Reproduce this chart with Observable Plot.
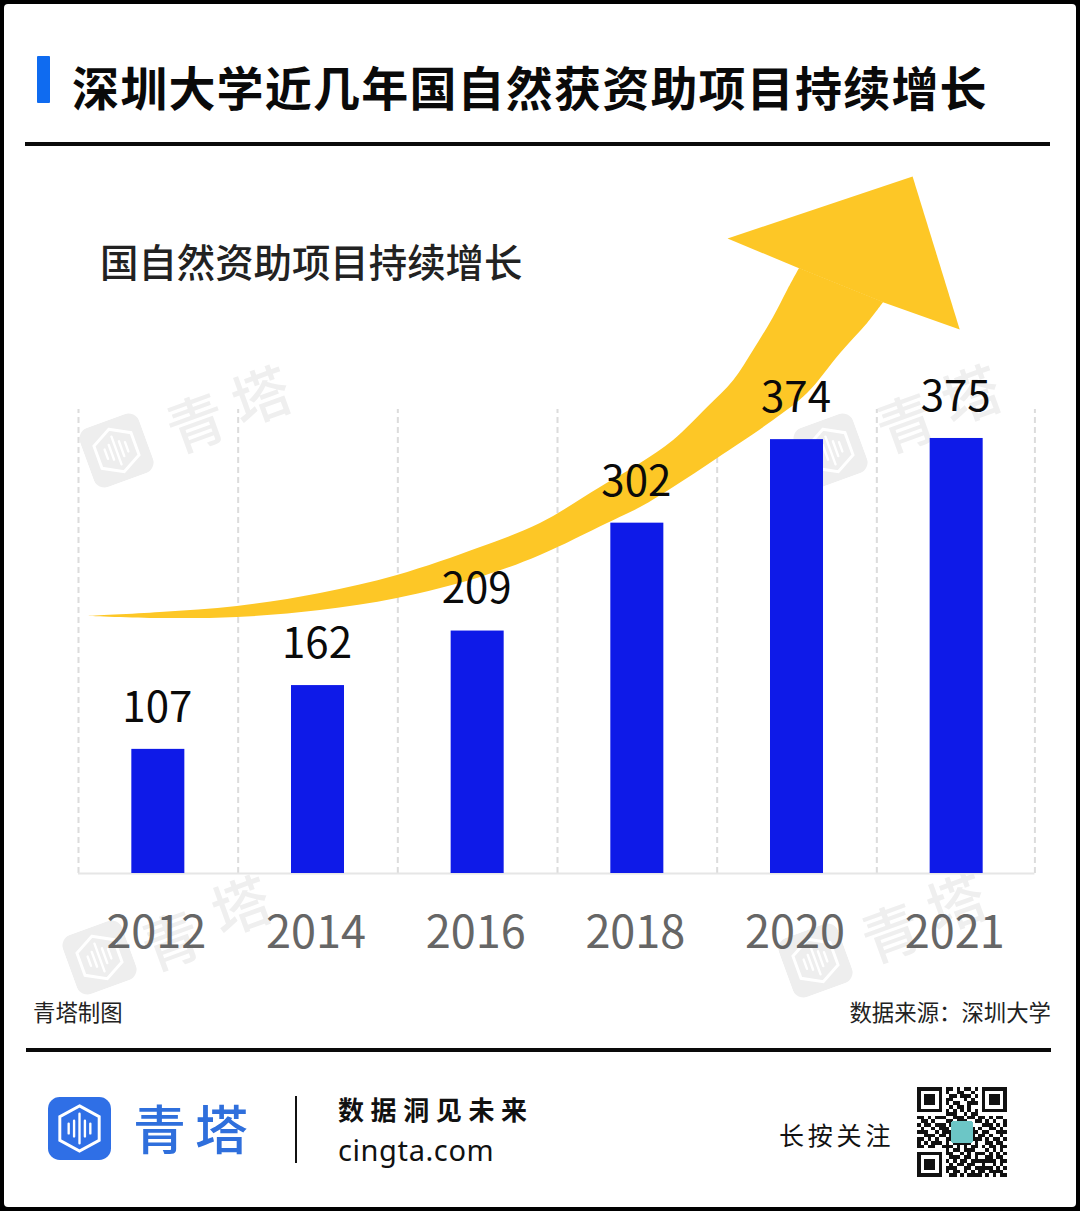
<!DOCTYPE html>
<html lang="zh">
<head>
<meta charset="utf-8">
<script src="https://cdn.jsdelivr.net/npm/d3@7"></script>
<script src="https://cdn.jsdelivr.net/npm/@observablehq/plot@0.6"></script>
<style>
html,body{margin:0;padding:0;background:#000;overflow:hidden}
#page{position:relative;width:1072px;height:1203px;margin:4px;background:#fff;border-radius:4px;overflow:hidden;font-family:"Noto Sans CJK SC","Noto Sans",sans-serif}
#page>*{position:absolute}
</style>
</head>
<body>
<div id="page"></div>
<script>
// ---------- chart data ----------
const years = ["2012", "2014", "2016", "2018", "2020", "2021"];
const grants = [107, 162, 209, 302, 374, 375];
const slots = [0, 1, 2, 3, 4, 5];
const gridSlots = [-0.5, 0.5, 1.5, 2.5, 3.5, 4.5, 5.49];
// arrow shaft edges and head, in the chart's own units (year slot, grant count)
const shaftTopSlot = [-0.439,0.013,0.495,1.015,1.497,2.018,2.393,2.769,3.020,3.227,3.440,3.603,3.728,3.853,3.941,4.016];
const shaftTopCount = [221.6,225,230.2,241.4,256.9,281,301.7,332.8,353.4,373.3,401.7,424.8,450.9,479.3,502.6,521.6];
const shaftBottomSlot = [-0.439,0.013,0.495,1.015,1.497,2.018,2.393,2.813,3.020,3.227,3.503,3.853,4.066,4.273,4.442,4.543];
const shaftBottomCount = [221.6,219.8,220.7,226.7,237.1,255.2,274.1,301.7,315.5,332.8,357.8,390.5,413.8,448.3,474.1,492.2];
const headSlot = [4.016,3.565,4.724,5.019,4.543];
const headCount = [521.6,547.4,600.9,469,492.2];
// ---------- page text ----------
const titleText = "深圳大学近几年国自然获资助项目持续增长";
const subtitleText = "国自然资助项目持续增长";
const creditText = "青塔制图";
const sourceText = "数据来源\uFF1A深圳大学";
const brandText = "青塔";
const sloganText = "数据洞见未来";
const siteText = "cingta.com";
const followText = "长按关注";
// decorative QR glyph
const qrRows = [
"1111111011010110101111111","1000001010011001001000001","1011101001101110101011101","1011101011000101001011101",
"1011101010110011101011101","1000001001011010001000001","1111111010101010101111111","0000000011100101100000000",
"1101011100111011011010110","0110100011011100110101001","1011011101011110001110101","0100101110111111010011010",
"1110010111000001101100111","0011101101000001011010010","1101010011000001110101101","1010111010111110100110110",
"1101100111010101101011011","0000000010110111000101010","1111111011001010111010101","1000001001110110100110110",
"1011101010101101111111011","1011101001011011001001010","1011101011100110111110101","1000001010110101011011110",
"1111111001101011110101011"];

const page = document.getElementById("page");
const F = 4; // frame thickness
function add(html, style){const d=document.createElement("div");d.innerHTML=html;d.style.cssText=style;page.appendChild(d);return d;}
function text(s,left,cy,size,extra=""){return add(s,`left:${left-F}px;top:${cy-F-size/2}px;font-size:${size}px;line-height:1;white-space:nowrap;${extra}`);}
function logo(size,bg,fg){return `<svg width="${size}" height="${size}" viewBox="0 0 64 64" style="display:block"><rect width="64" height="64" rx="12" fill="${bg}"/><path d="M32 9 52 20V44L32 55 12 44V20Z" fill="none" stroke="${fg}" stroke-width="3"/><g stroke="${fg}" stroke-width="2.4" stroke-linecap="round"><path d="M21 27V37M26.5 24V40M32 17V47M37.5 24V40M43 27V37"/></g></svg>`;}

// watermarks (behind the chart)
[[116,450,63,[[195,420],[260,393]]],[99,957,63,[[170,938],[240,903]]],[830,450,63,[[905,420],[970,392]]],[815,960,63,[[890,930],[955,900]]]].forEach(([cx,cy,s,ts])=>{
  add(logo(s,"#eeeeee","#fff"),`left:${cx-F-s/2}px;top:${cy-F-s/2}px;transform:rotate(-20deg)`);
  [...brandText].forEach((c,i)=>add(c,`left:${ts[i][0]-F-29}px;top:${ts[i][1]-F-29}px;color:#efefef;font-size:58px;font-weight:500;line-height:1;transform:rotate(-20deg)`));
});

// header
add("",`left:${37-F}px;top:${56-F}px;width:13px;height:47px;background:#0f6bf0;border-radius:1px`);
text(titleText,72,85,47,"font-weight:700;letter-spacing:1.2px;color:#0a0a0a");
add("",`left:${25-F}px;top:${142-F}px;width:1025px;height:4px;background:#0a0a0a`);
text(subtitleText,100,260,38.4,"font-weight:500;color:#222");

// chart
const table = slots.map(i=>({slot:i,value:grants[i]}));
const shaft = shaftTopSlot.map((x,i)=>({x1:x,y1:shaftTopCount[i],x2:shaftBottomSlot[i],y2:shaftBottomCount[i]}));
const head = headSlot.map((x,i)=>({x,y:headCount[i]}));
const chart = Plot.plot({
  width:1080, height:820,
  marginTop:0, marginBottom:117, marginLeft:78, marginRight:44,
  x:{domain:[-0.5,5.5], axis:null},
  y:{domain:[0,606], axis:null},
  style:{background:"transparent",fontFamily:'"Noto Sans CJK SC","Noto Sans",sans-serif'},
  marks:[
    Plot.ruleX(gridSlots,{y1:0,y2:400,stroke:"#dcdcdc",strokeWidth:2,strokeDasharray:"6,4"}),
    Plot.ruleY([0],{x1:-0.5,x2:5.49,stroke:"#e6e6e6",strokeWidth:2}),
    Plot.area(shaft,{x1:"x1",y1:"y1",x2:"x2",y2:"y2",fill:"#fdc726",curve:"catmull-rom"}),
    Plot.line(head,{x:"x",y:"y",fill:"#fdc726",stroke:"none",curve:"linear-closed"}),
    Plot.rect(table,{x1:d=>d.slot-0.166,x2:d=>d.slot+0.166,y1:0,y2:"value",fill:"#0e1ae8"}),
    Plot.text(table,{x:"slot",y:"value",text:d=>String(d.value),dy:-41,dx:-1,fontSize:42,fill:"#0a0a0a"}),
    Plot.axisX({ticks:slots,tickFormat:i=>years[i],tickSize:0,tickPadding:43,dx:-2,fontSize:45,fill:"#666",label:null})
  ]
});
const holder = add("",`left:${-F}px;top:${170-F}px;width:1080px;height:820px`);
holder.appendChild(chart);

// caption row
text(creditText,33,1011,22.4,"color:#222");
text(sourceText,0,1011,22.4,"color:#222;left:auto;right:25px");
add("",`left:${26-F}px;top:${1048-F}px;width:1025px;height:4px;background:#0a0a0a`);

// footer
add(logo(63,"#2f6fe6","#fff"),`left:${48-F}px;top:${1097-F}px`);
text(brandText,133,1127,53,"color:#2f6fdc;font-weight:500;letter-spacing:9px");
add("",`left:${295-F}px;top:${1096-F}px;width:2px;height:67px;background:#111`);
text(sloganText,338,1109,26,"font-weight:700;letter-spacing:6.6px;color:#111");
text(siteText,338,1149,29,"color:#111;letter-spacing:0.6px;font-family:'Noto Sans',sans-serif");
text(followText,779,1134,25,"color:#111;letter-spacing:3.8px");

// QR glyph
const n = qrRows.length;
let qr = `<svg width="90" height="90" viewBox="0 0 ${n} ${n}" shape-rendering="crispEdges" style="display:block"><path fill="#111" d="`;
qrRows.forEach((r,y)=>[...r].forEach((c,x)=>{if(c==="1")qr+=`M${x} ${y}h1v1h-1z`;}));
qr += `"/><rect x="9.5" y="9.5" width="6" height="6" rx="0.6" fill="#6cc6c6"/></svg>`;
add(qr,`left:${917-F}px;top:${1087-F}px`);
</script>
</body>
</html>
